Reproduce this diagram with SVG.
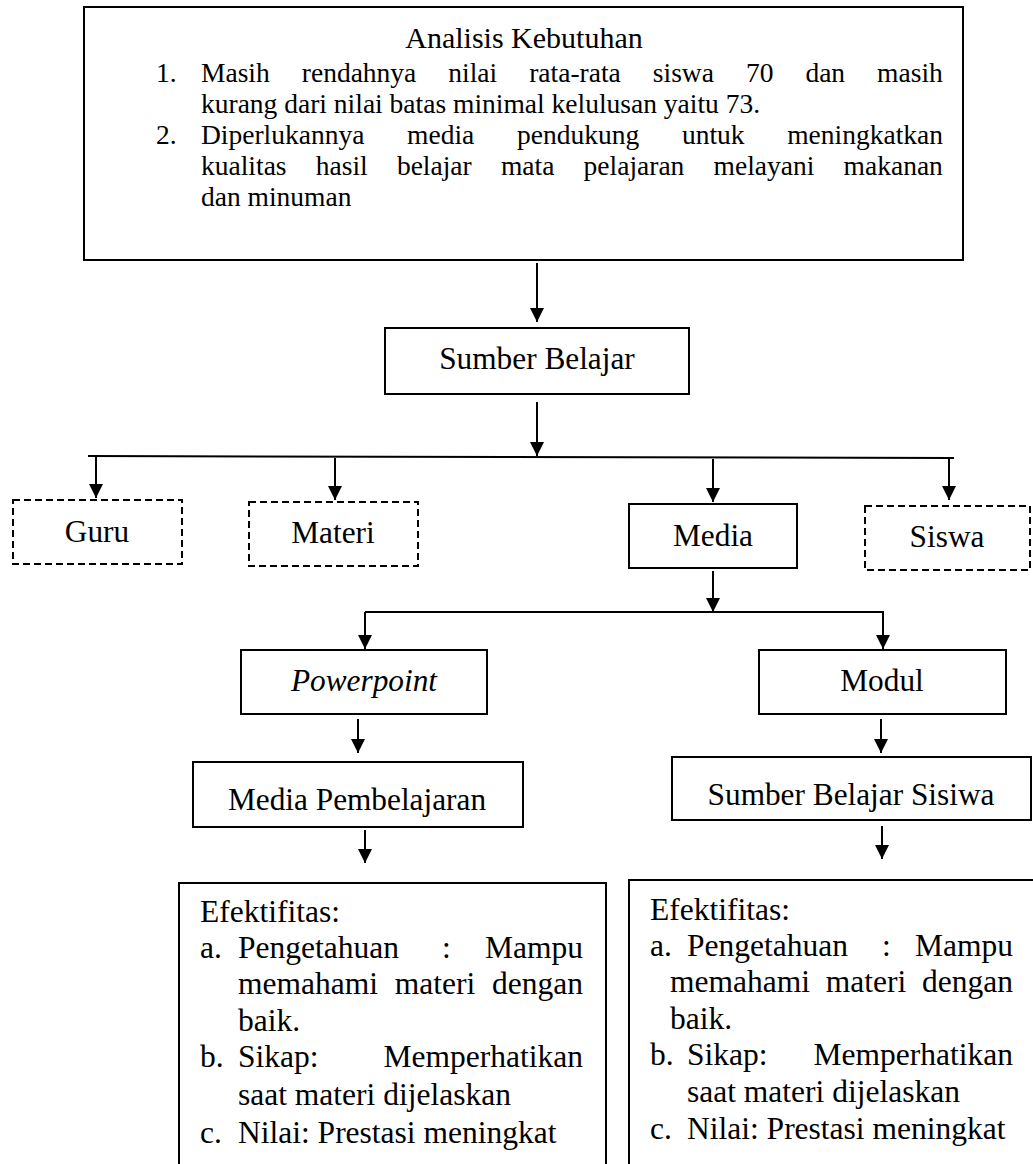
<svg xmlns="http://www.w3.org/2000/svg" width="1033" height="1164" viewBox="0 0 1033 1164">
<defs>
<style>
.box{fill:#fff;stroke:#000;stroke-width:2}
.dash{fill:#fff;stroke:#000;stroke-width:2;stroke-dasharray:7 4}
.t{font-family:"Liberation Serif","Times New Roman",serif;fill:#000}
.lbl{font-size:31.3px;text-anchor:middle}
.ttl{font-size:30px;text-anchor:middle}
.top{font-size:27.5px}
.eff{font-size:31.5px}
.ln{stroke:#000;stroke-width:2;fill:none}
.arr{stroke:#000;stroke-width:2;fill:none;marker-end:url(#ah)}
</style>
<marker id="ah" markerUnits="userSpaceOnUse" markerWidth="14" markerHeight="14" viewBox="0 0 14 14" refX="14" refY="7" orient="auto">
<path d="M0,0 L14,7 L0,14 z" fill="#000"/>
</marker>
</defs>
<rect width="1033" height="1164" fill="#fff"/>

<g id="analisis">
<rect class="box" x="84" y="7" width="879" height="253"/>
<text class="t ttl" x="524" y="48">Analisis Kebutuhan</text>
<text class="t top" y="82"><tspan x="156">1.</tspan><tspan x="201">Masih</tspan><tspan x="301.8">rendahnya</tspan><tspan x="448.3">nilai</tspan><tspan x="529.2">rata-rata</tspan><tspan x="652.8">siswa</tspan><tspan x="745.9">70</tspan><tspan x="805.4">dan</tspan><tspan x="877.1">masih</tspan></text>
<text class="t top" x="201" y="113">kurang dari nilai batas minimal kelulusan yaitu 73.</text>
<text class="t top" y="144"><tspan x="156">2.</tspan><tspan x="201">Diperlukannya</tspan><tspan x="407.1">media</tspan><tspan x="517">pendukung</tspan><tspan x="681.9">untuk</tspan><tspan x="787.2">meningkatkan</tspan></text>
<text class="t top" y="175"><tspan x="201">kualitas</tspan><tspan x="315.8">hasil</tspan><tspan x="396.9">belajar</tspan><tspan x="500.9">mata</tspan><tspan x="583.6">pelajaran</tspan><tspan x="713.6">melayani</tspan><tspan x="843.6">makanan</tspan></text>
<text class="t top" x="201" y="206">dan minuman</text>
</g>

<g id="sumber-belajar">
<rect class="box" x="385" y="328" width="304" height="66"/>
<text class="t lbl" x="537" y="369">Sumber Belajar</text>
</g>

<g id="guru">
<rect class="dash" x="13" y="500" width="169" height="64"/>
<text class="t lbl" x="97" y="542">Guru</text>
</g>
<g id="materi">
<rect class="dash" x="249" y="502" width="169" height="64"/>
<text class="t lbl" x="333" y="543">Materi</text>
</g>
<g id="media">
<rect class="box" x="629" y="504" width="168" height="64"/>
<text class="t lbl" x="713" y="546">Media</text>
</g>
<g id="siswa">
<rect class="dash" x="865" y="506" width="165" height="64"/>
<text class="t lbl" x="947" y="547">Siswa</text>
</g>

<g id="powerpoint">
<rect class="box" x="241" y="650" width="246" height="64"/>
<text class="t lbl" x="364" y="691" font-style="italic">Powerpoint</text>
</g>
<g id="modul">
<rect class="box" x="759" y="650" width="247" height="64"/>
<text class="t lbl" x="882" y="691">Modul</text>
</g>

<g id="media-pembelajaran">
<rect class="box" x="193" y="762" width="330" height="65"/>
<text class="t lbl" x="357" y="810">Media Pembelajaran</text>
</g>
<g id="sumber-belajar-sisiwa">
<rect class="box" x="672" y="757" width="359" height="63"/>
<text class="t lbl" x="851" y="805">Sumber Belajar Sisiwa</text>
</g>

<g id="efektifitas-kiri">
<rect class="box" x="179" y="883" width="427" height="300"/>
<text class="t eff" x="200" y="922">Efektifitas:</text>
<text class="t eff" y="958"><tspan x="200">a.</tspan><tspan x="238">Pengetahuan</tspan><tspan x="442">:</tspan><tspan x="485">Mampu</tspan></text>
<text class="t eff" y="994"><tspan x="238">memahami</tspan><tspan x="394.8">materi</tspan><tspan x="492">dengan</tspan></text>
<text class="t eff" x="238" y="1031">baik.</text>
<text class="t eff" y="1067"><tspan x="200">b.</tspan><tspan x="238">Sikap:</tspan><tspan x="383.5">Memperhatikan</tspan></text>
<text class="t eff" x="238" y="1105">saat materi dijelaskan</text>
<text class="t eff" y="1143"><tspan x="200">c.</tspan><tspan x="238">Nilai: Prestasi meningkat</tspan></text>
</g>

<g id="efektifitas-kanan">
<rect class="box" x="629" y="880" width="420" height="300"/>
<text class="t eff" x="650" y="920">Efektifitas:</text>
<text class="t eff" y="956"><tspan x="650">a.</tspan><tspan x="687">Pengetahuan</tspan><tspan x="882">:</tspan><tspan x="915">Mampu</tspan></text>
<text class="t eff" y="992"><tspan x="670">memahami</tspan><tspan x="825.8">materi</tspan><tspan x="922">dengan</tspan></text>
<text class="t eff" x="670" y="1029">baik.</text>
<text class="t eff" y="1065"><tspan x="650">b.</tspan><tspan x="687">Sikap:</tspan><tspan x="813.5">Memperhatikan</tspan></text>
<text class="t eff" x="687" y="1102">saat materi dijelaskan</text>
<text class="t eff" y="1139"><tspan x="650">c.</tspan><tspan x="687">Nilai: Prestasi meningkat</tspan></text>
</g>

<g id="connectors">
<line class="arr" x1="537" y1="263" x2="537" y2="322"/>
<line class="arr" x1="537" y1="402" x2="537" y2="456"/>
<line class="ln" x1="88" y1="456" x2="954" y2="458"/>
<line class="arr" x1="96" y1="456" x2="96" y2="498"/>
<line class="arr" x1="335" y1="458" x2="335" y2="500"/>
<line class="arr" x1="713" y1="459" x2="713" y2="502"/>
<line class="arr" x1="949" y1="458" x2="949" y2="500"/>
<line class="arr" x1="713" y1="571" x2="713" y2="612"/>
<line class="ln" x1="365" y1="612" x2="884" y2="612"/>
<line class="arr" x1="365" y1="612" x2="365" y2="649"/>
<line class="arr" x1="883" y1="612" x2="883" y2="649"/>
<line class="arr" x1="358" y1="719" x2="358" y2="753"/>
<line class="arr" x1="881" y1="719" x2="881" y2="753"/>
<line class="arr" x1="365" y1="830" x2="365" y2="863"/>
<line class="arr" x1="882" y1="826" x2="882" y2="859"/>
</g>
</svg>
